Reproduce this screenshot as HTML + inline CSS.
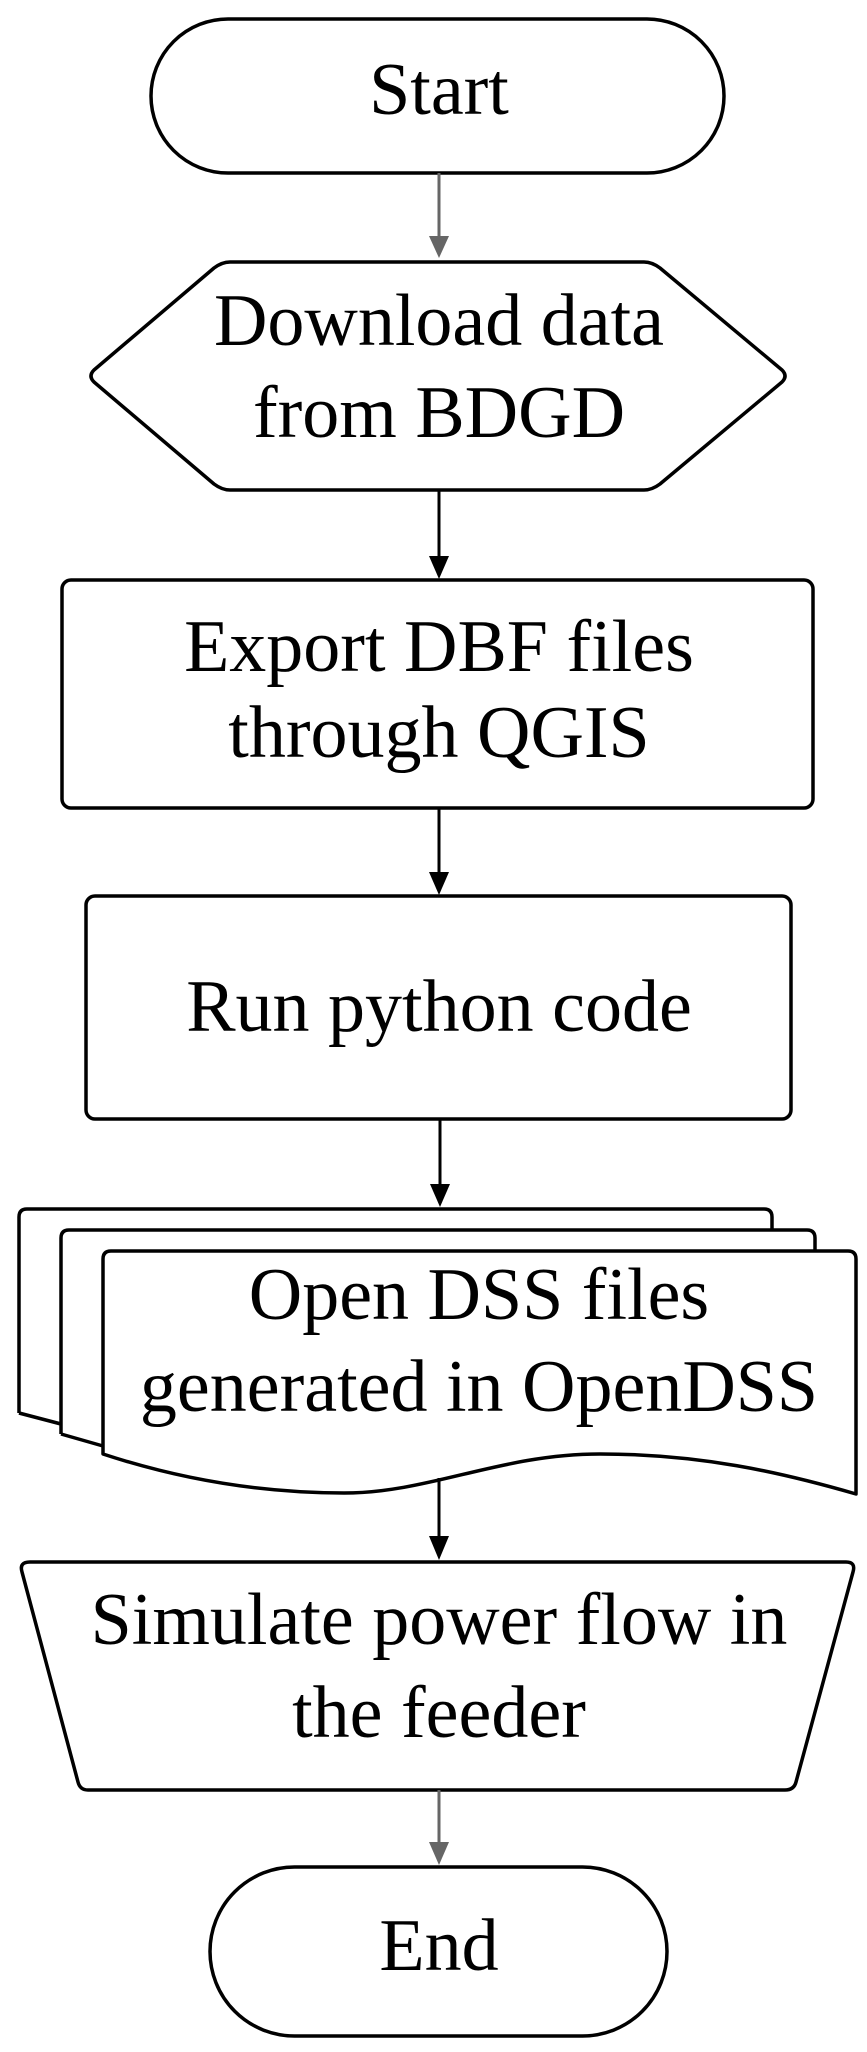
<!DOCTYPE html>
<html><head><meta charset="utf-8"><style>html,body{margin:0;padding:0;background:#fff}svg{display:block}</style></head>
<body>
<svg width="867" height="2052" viewBox="0 0 867 2052" xmlns="http://www.w3.org/2000/svg">
<g fill="none" stroke="#000" stroke-width="3.5" stroke-linejoin="round">
<rect x="151" y="19" width="573" height="154" rx="77"/>
<path d="M230 262 L644 262 Q652 262 660 268 L782 370 Q788 376 782 382 L660 484 Q652 490 644 490 L230 490 Q222 490 214 484 L94 382 Q88 376 94 370 L214 268 Q222 262 230 262 Z"/>
<rect x="62" y="580" width="751" height="228" rx="9"/>
<rect x="86" y="896" width="705" height="223" rx="9"/>
<path d="M19 1413 L19 1217 Q19 1209 27 1209 L764 1209 Q772 1209 772 1217 L772 1230" fill="#fff"/>
<path d="M61 1434 L61 1238 Q61 1230 69 1230 L807 1230 Q815 1230 815 1238 L815 1251" fill="#fff"/>
<path d="M19 1413 L61 1424 M61 1434 L103 1446"/>
<path d="M103 1454 L103 1259 Q103 1251 111 1251 L848 1251 Q856 1251 856 1259 L856 1494 C780 1472 700 1454 600 1454 C500 1454 430 1493 344 1493 C250 1493 170 1476 103 1454 Z" fill="#fff"/>
<path d="M30 1562 L846 1562 Q856 1562 853 1572 L796 1782 Q794 1790 785 1790 L88 1790 Q80 1790 78 1782 L22 1572 Q19 1562 30 1562 Z"/>
<rect x="210" y="1867" width="457" height="169" rx="84.5"/>
</g>
<g stroke-width="3">
<line x1="439" y1="173" x2="439" y2="240" stroke="#666"/>
<polygon points="429,236 449,236 439,258" fill="#666"/>
<line x1="439" y1="490" x2="439" y2="560" stroke="#000"/>
<polygon points="429,556 449,556 439,579" fill="#000"/>
<line x1="439" y1="808" x2="439" y2="876" stroke="#000"/>
<polygon points="429,872 449,872 439,895" fill="#000"/>
<line x1="440" y1="1119" x2="440" y2="1188" stroke="#000"/>
<polygon points="430,1184 450,1184 440,1207" fill="#000"/>
<line x1="439" y1="1478" x2="439" y2="1540" stroke="#000"/>
<polygon points="429,1536 449,1536 439,1560" fill="#000"/>
<line x1="439" y1="1790" x2="439" y2="1846" stroke="#666"/>
<polygon points="429,1842 449,1842 439,1865" fill="#666"/>
</g>
<g font-family="Liberation Serif, serif" font-size="74" fill="#000" text-anchor="middle">
<text x="439" y="114">Start</text>
<text x="439" y="345">Download data</text>
<text x="439" y="437">from BDGD</text>
<text x="439" y="671">Export DBF files</text>
<text x="439" y="757">through QGIS</text>
<text x="439" y="1031">Run python code</text>
<text x="479" y="1319">Open DSS files</text>
<text x="479" y="1411">generated in OpenDSS</text>
<text x="439" y="1644">Simulate power flow in</text>
<text x="439" y="1737">the feeder</text>
<text x="439" y="1970">End</text>
</g>
</svg>
</body></html>
